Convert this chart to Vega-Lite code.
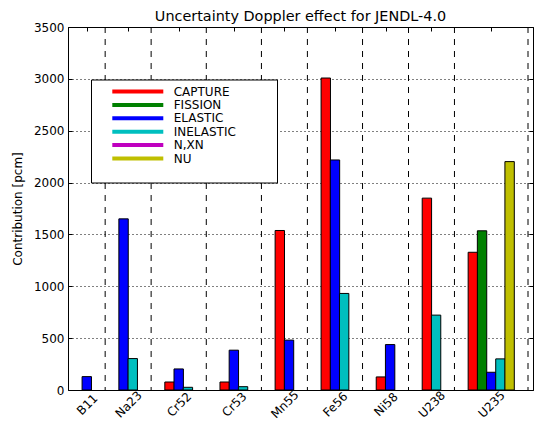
{
  "$schema": "https://vega.github.io/schema/vega-lite/v6.json",
  "width": 465,
  "height": 363,
  "autosize": {"type": "none"},
  "padding": {"left": 68, "top": 27, "right": 1, "bottom": 31},
  "title": {"text": "Uncertainty Doppler effect for JENDL-4.0", "font": "DejaVu Sans", "fontSize": 14.4, "fontWeight": "normal", "color": "black", "anchor": "middle", "offset": 5, "baseline": "alphabetic", "dy": 19},
  "config": {
    "font": "DejaVu Sans",
    "view": {"stroke": "black", "strokeWidth": 1},
    "axis": {"labelFont": "DejaVu Sans", "labelFontSize": 12, "labelColor": "black", "titleFont": "DejaVu Sans", "titleColor": "black", "tickColor": "black", "domain": false}
  },
  "datasets": {
    "bars": [
      {"isotope": "B11", "reaction": "ELASTIC", "pos": 1.5, "value": 129},
      {"isotope": "Na23", "reaction": "ELASTIC", "pos": 5.5, "value": 1650},
      {"isotope": "Na23", "reaction": "INELASTIC", "pos": 6.5, "value": 303},
      {"isotope": "Cr52", "reaction": "CAPTURE", "pos": 10.5, "value": 77},
      {"isotope": "Cr52", "reaction": "ELASTIC", "pos": 11.5, "value": 203},
      {"isotope": "Cr52", "reaction": "INELASTIC", "pos": 12.5, "value": 26},
      {"isotope": "Cr53", "reaction": "CAPTURE", "pos": 16.5, "value": 77},
      {"isotope": "Cr53", "reaction": "ELASTIC", "pos": 17.5, "value": 384},
      {"isotope": "Cr53", "reaction": "INELASTIC", "pos": 18.5, "value": 32},
      {"isotope": "Mn55", "reaction": "CAPTURE", "pos": 22.5, "value": 1538},
      {"isotope": "Mn55", "reaction": "ELASTIC", "pos": 23.5, "value": 481},
      {"isotope": "Fe56", "reaction": "CAPTURE", "pos": 27.5, "value": 3008},
      {"isotope": "Fe56", "reaction": "ELASTIC", "pos": 28.5, "value": 2218},
      {"isotope": "Fe56", "reaction": "INELASTIC", "pos": 29.5, "value": 931},
      {"isotope": "Ni58", "reaction": "CAPTURE", "pos": 33.5, "value": 126},
      {"isotope": "Ni58", "reaction": "ELASTIC", "pos": 34.5, "value": 438},
      {"isotope": "U238", "reaction": "CAPTURE", "pos": 38.5, "value": 1850},
      {"isotope": "U238", "reaction": "INELASTIC", "pos": 39.5, "value": 722},
      {"isotope": "U235", "reaction": "CAPTURE", "pos": 43.5, "value": 1328},
      {"isotope": "U235", "reaction": "FISSION", "pos": 44.5, "value": 1535},
      {"isotope": "U235", "reaction": "ELASTIC", "pos": 45.5, "value": 171},
      {"isotope": "U235", "reaction": "INELASTIC", "pos": 46.5, "value": 300},
      {"isotope": "U235", "reaction": "NU", "pos": 47.5, "value": 2202}
    ],
    "edges": [
      {"edge": 3.5}, {"edge": 8.5}, {"edge": 14.5}, {"edge": 20.5}, {"edge": 25.5},
      {"edge": 31.5}, {"edge": 36.5}, {"edge": 41.5}, {"edge": 49.5}
    ]
  },
  "layer": [
    {
      "data": {"name": "edges"},
      "mark": {"type": "rule", "color": "black", "strokeWidth": 1, "strokeDash": [6, 6]},
      "encoding": {
        "x": {"field": "edge", "type": "quantitative",
          "scale": {"domain": [0, 49.5], "nice": false, "zero": false},
          "axis": {"orient": "top", "values": [1.5, 6, 11.5, 17.5, 23, 28.5, 34, 39, 45.5], "labels": false, "ticks": true, "tickSize": -4, "grid": false, "domain": false, "title": null}}
      }
    },
    {
      "data": {"name": "bars"},
      "mark": {"type": "bar", "width": 9.39, "stroke": "black", "strokeWidth": 1},
      "encoding": {
        "x": {"field": "pos", "type": "quantitative",
          "axis": {"orient": "bottom", "values": [1.5, 6, 11.5, 17.5, 23, 28.5, 34, 39, 45.5],
            "labelExpr": "['B11','Na23','Cr52','Cr53','Mn55','Fe56','Ni58','U238','U235'][indexof([1.5,6,11.5,17.5,23,28.5,34,39,45.5], datum.value)]",
            "labelAngle": -45, "labelAlign": "center", "labelBaseline": "middle", "labelPadding": 18,
            "tickSize": -4, "grid": false, "domain": false, "title": null, "labelFlush": false, "labelOverlap": false}},
        "y": {"field": "value", "type": "quantitative",
          "scale": {"domain": [0, 3500], "nice": false},
          "axis": {"orient": "left", "values": [0, 500, 1000, 1500, 2000, 2500, 3000, 3500], "format": "d",
            "grid": true, "gridDash": [1, 3], "gridColor": "black", "gridOpacity": 1, "gridWidth": 1,
            "tickSize": -4, "labelPadding": 8, "domain": false,
            "title": "Contribution [pcm]", "titleFontSize": 12, "titleFontWeight": "normal",
            "titleX": -51, "titleY": 181.5, "titleAngle": -90, "titleAlign": "center", "titleBaseline": "middle"}},
        "color": {"field": "reaction", "type": "nominal",
          "scale": {"domain": ["CAPTURE", "FISSION", "ELASTIC", "INELASTIC", "N,XN", "NU"],
            "range": ["#ff0000", "#008000", "#0000ff", "#00bfbf", "#bf00bf", "#bfbf00"]},
          "legend": {
            "orient": "none", "legendX": 23, "legendY": 52.5,
            "title": " ", "titleOrient": "bottom", "titleFontSize": 10, "titlePadding": 2,
            "symbolType": "M9.3,-2L60.3,-2L60.3,2L9.3,2ZM168,0",
            "symbolSize": 4, "symbolStrokeWidth": 0, "symbolOpacity": 1,
            "labelFont": "DejaVu Sans", "labelFontSize": 12, "labelColor": "black", "labelOffset": 64.7, "labelBaseline": "middle",
            "rowPadding": 1.4, "padding": 6,
            "strokeColor": "black", "fillColor": "white"
          }}
      }
    },
    {
      "data": {"name": "bars"},
      "mark": {"type": "point", "opacity": 0},
      "encoding": {
        "x": {"field": "pos", "type": "quantitative", "axis": null},
        "y": {"field": "value", "type": "quantitative",
          "axis": {"orient": "right", "values": [0, 500, 1000, 1500, 2000, 2500, 3000, 3500], "labels": false, "tickSize": -4, "grid": false, "domain": false, "title": null}}
      }
    }
  ],
  "resolve": {"axis": {"x": "independent", "y": "independent"}}
}
